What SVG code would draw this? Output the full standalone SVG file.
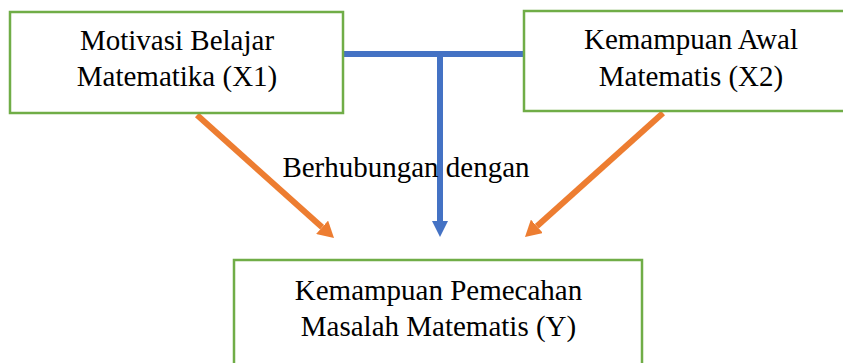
<svg xmlns="http://www.w3.org/2000/svg" width="843" height="363" viewBox="0 0 843 363">
  <style>
    .box { fill: #ffffff; stroke: #70AD47; stroke-width: 2.5; }
    .lbl { font-family: "Liberation Serif", "Times New Roman", serif; font-size: 29px; fill: #000000; text-anchor: middle; }
    .orange { stroke: #ED7D31; stroke-width: 6; fill: none; }
    .blue { stroke: #4472C4; stroke-width: 6; fill: none; }
  </style>
  <defs>
    <marker id="headO" markerUnits="userSpaceOnUse" markerWidth="16" markerHeight="18" refX="0" refY="9" orient="auto">
      <path d="M0,0 L16,9 L0,18 z" fill="#ED7D31"/>
    </marker>
    <marker id="headB" markerUnits="userSpaceOnUse" markerWidth="16" markerHeight="16" refX="0" refY="8" orient="auto">
      <path d="M0,0 L16,8 L0,16 z" fill="#4472C4"/>
    </marker>
  </defs>
  <rect width="843" height="363" fill="#ffffff"/>

  <g id="connectors">
    <line class="orange" x1="197" y1="115" x2="322.1" y2="227.3" marker-end="url(#headO)"/>
    <line class="orange" x1="663" y1="113" x2="536.9" y2="226.3" marker-end="url(#headO)"/>
    <line class="blue" x1="343" y1="54" x2="524" y2="54"/>
    <line class="blue" x1="440" y1="51" x2="440" y2="221" marker-end="url(#headB)"/>
  </g>

  <g id="label-relation">
    <text class="lbl" x="406" y="177">Berhubungan dengan</text>
  </g>

  <g id="node-x1">
    <rect class="box" x="10" y="12" width="333" height="101"/>
    <text class="lbl" x="177" y="50">Motivasi Belajar</text>
    <text class="lbl" x="177" y="86">Matematika (X1)</text>
  </g>

  <g id="node-x2">
    <rect class="box" x="524" y="11" width="340" height="100"/>
    <text class="lbl" x="691" y="49">Kemampuan Awal</text>
    <text class="lbl" x="691" y="86">Matematis (X2)</text>
  </g>

  <g id="node-y">
    <rect class="box" x="234" y="260" width="408" height="120"/>
    <text class="lbl" x="438.5" y="300">Kemampuan Pemecahan</text>
    <text class="lbl" x="438.5" y="336">Masalah Matematis (Y)</text>
  </g>
</svg>
